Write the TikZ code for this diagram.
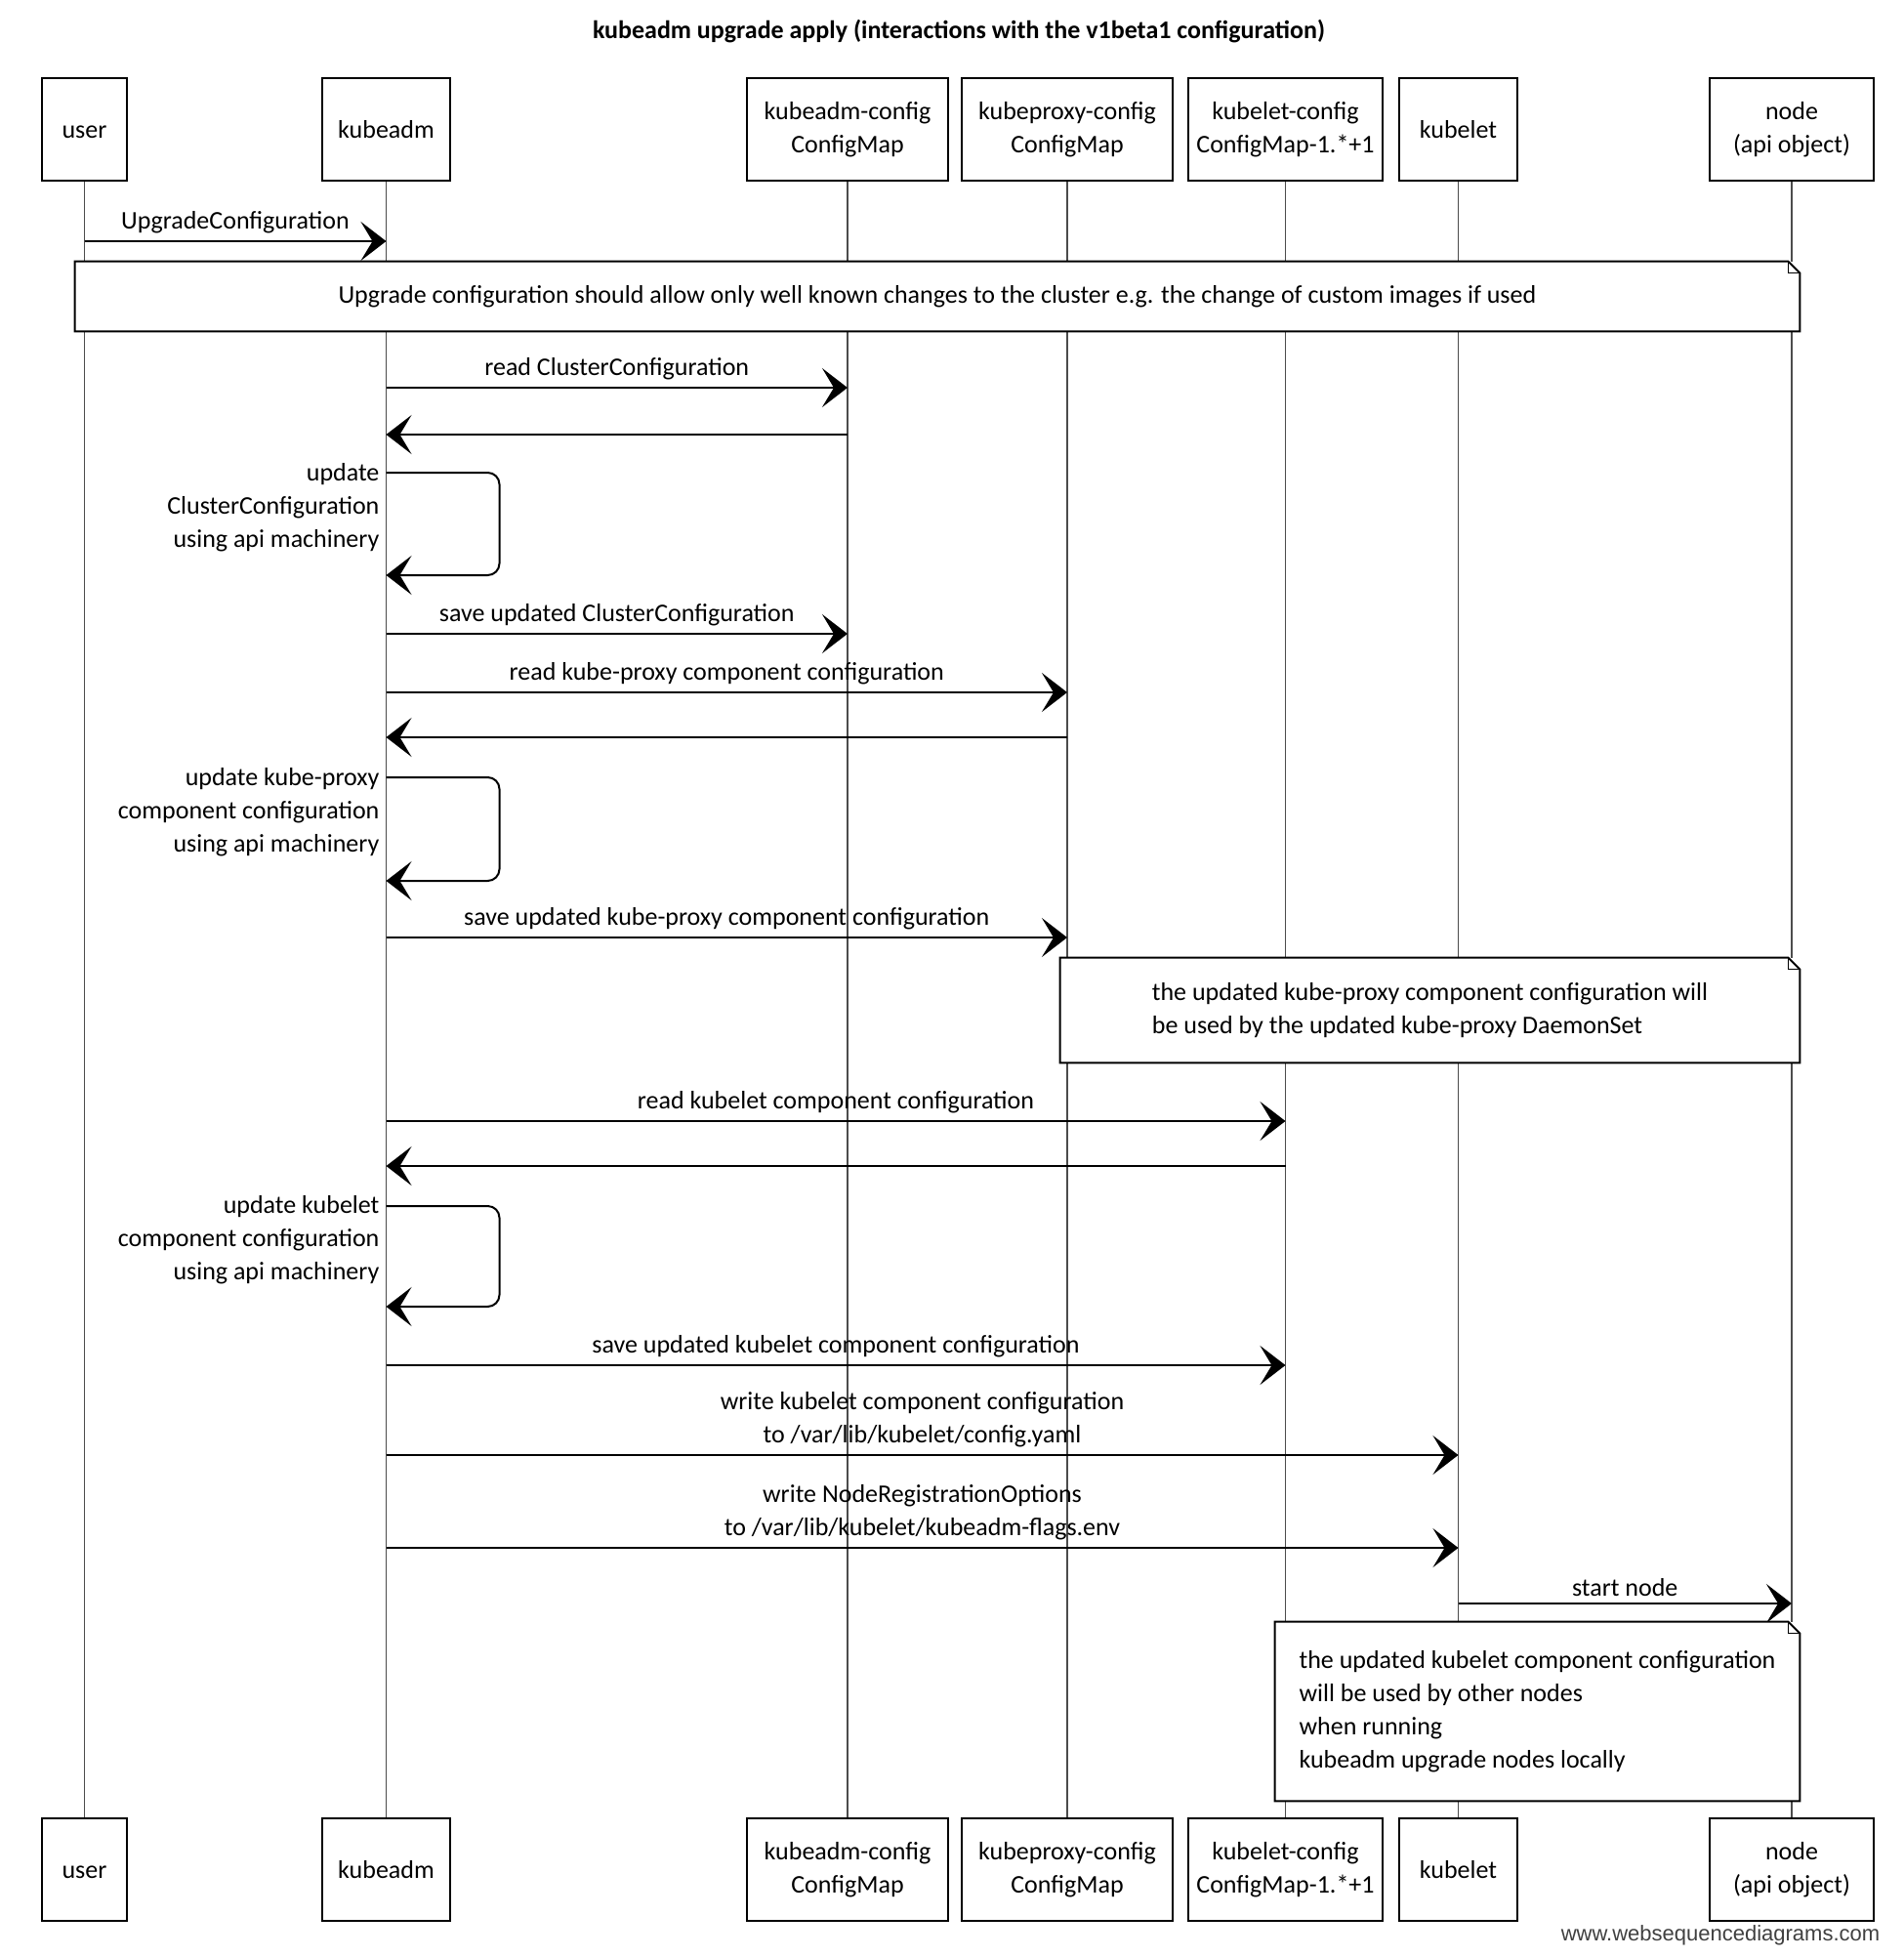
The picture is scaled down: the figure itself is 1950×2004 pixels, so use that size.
\documentclass[tikz,border=0pt]{standalone}
\usepackage{fontspec}
\setmainfont{Carlito}
\newfontfamily\wmfont{Liberation Sans}
\usetikzlibrary{arrows.meta}

\tikzset{
  actor/.style={draw, line width=1pt, fill=white, align=center, minimum height=52.5pt},
  msg/.style={line width=1pt, -{Stealth[length=13pt,width=20pt,inset=6pt]}},
  lifeline/.style={line width=0.6pt, black!70},
  note/.style={fill=white, inner sep=0pt},
}
% outline of a note with a folded corner
\newcommand\notebox[1]{%
  \draw[line width=1pt] (#1.north west) -- ([xshift=-6pt]#1.north east)
    -- ([yshift=-6pt]#1.north east) -- (#1.south east) -- (#1.south west) -- cycle;
  \draw[line width=0.6pt] ([xshift=-6pt]#1.north east) |- ([yshift=-6pt]#1.north east);
}

\begin{document}
\begin{tikzpicture}[x=0.5pt, y=-0.5pt, every node/.style={font=\fontsize{13}{17}\selectfont}]
        \useasboundingbox (0,0) rectangle (1950,2004);
        \node[font=\bfseries\fontsize{13}{17}\selectfont] (title) at (982,32)
          {kubeadm upgrade apply (interactions with the v1beta1 configuration)};

        % participants, top row
        \node[actor, minimum width=43.5pt] (user) at (86.5,132.5) {\vphantom{k}user};
        \node[actor, minimum width=65.5pt] (kubeadm) at (395.5,132.5) {kubeadm};
        \node[actor, minimum width=103pt] (kcfg) at (868,132.5) {kubeadm-config\\ConfigMap};
        \node[actor, minimum width=108pt] (kpcfg) at (1093,132.5) {kubeproxy-config\\ConfigMap};
        \node[actor, minimum width=99.5pt] (klcfg) at (1316.5,132.5) {kubelet-config\\ConfigMap-1.*+1};
        \node[actor, minimum width=60.5pt] (kubelet) at (1493.5,132.5) {kubelet};
        \node[actor, minimum width=84pt] (apinode) at (1835,132.5) {node\\(api object)};

        % participants, bottom row
        \node[actor, minimum width=43.5pt] (userB) at (86.5,1914.5) {\vphantom{k}user};
        \node[actor, minimum width=65.5pt] (kubeadmB) at (395.5,1914.5) {kubeadm};
        \node[actor, minimum width=103pt] (kcfgB) at (868,1914.5) {kubeadm-config\\ConfigMap};
        \node[actor, minimum width=108pt] (kpcfgB) at (1093,1914.5) {kubeproxy-config\\ConfigMap};
        \node[actor, minimum width=99.5pt] (klcfgB) at (1316.5,1914.5) {kubelet-config\\ConfigMap-1.*+1};
        \node[actor, minimum width=60.5pt] (kubeletB) at (1493.5,1914.5) {kubelet};
        \node[actor, minimum width=84pt] (apinodeB) at (1835,1914.5) {node\\(api object)};

        % lifelines
        \draw[lifeline] (user) -- (userB);
        \draw[lifeline] (kubeadm) -- (kubeadmB);
        \draw[lifeline] (kcfg) -- (kcfgB);
        \draw[lifeline] (kpcfg) -- (kpcfgB);
        \draw[lifeline] (klcfg) -- (klcfgB);
        \draw[lifeline] (kubelet) -- (kubeletB);
        \draw[lifeline] (apinode) -- (apinodeB);

        \draw[msg] (user |- 0,247) -- node[above] {UpgradeConfiguration} (kubeadm |- 0,247);
        \node[note, minimum width=883pt, minimum height=35.5pt] (note1) at (960,303.5)
          {Upgrade configuration should allow only well known changes to the cluster e.g. the change of custom images if used};
        \notebox{note1}

        % ClusterConfiguration
        \draw[msg] (kubeadm |- 0,397) -- node[above] {read ClusterConfiguration} (kcfg |- 0,397);
        \draw[msg] (kcfg |- 0,445) -- (kubeadm |- 0,445);
        \draw[msg, rounded corners=6pt] (kubeadm |- 0,484) -- ++(116,0) -- ++(0,105) -- (kubeadm |- 0,589);
        \node[left, align=right] (upd1) at (kubeadm |- 0,520) {update\\ClusterConfiguration\\using api machinery};
        \draw[msg] (kubeadm |- 0,649) -- node[above] {save updated ClusterConfiguration} (kcfg |- 0,649);

        % kube-proxy
        \draw[msg] (kubeadm |- 0,709) -- node[above] {read kube-proxy component configuration} (kpcfg |- 0,709);
        \draw[msg] (kpcfg |- 0,755) -- (kubeadm |- 0,755);
        \draw[msg, rounded corners=6pt] (kubeadm |- 0,796) -- ++(116,0) -- ++(0,106) -- (kubeadm |- 0,902);
        \node[left, align=right] (upd2) at (kubeadm |- 0,832) {update kube-proxy\\component configuration\\using api machinery};
        \draw[msg] (kubeadm |- 0,960) -- node[above] {save updated kube-proxy component configuration} (kpcfg |- 0,960);
        \node[note, minimum width=378.5pt, minimum height=53.5pt, align=left] (note2) at (1464.5,1034.5)
          {the updated kube-proxy component configuration will\\be used by the updated kube-proxy DaemonSet};
        \notebox{note2}

        % kubelet
        \draw[msg] (kubeadm |- 0,1148) -- node[above] {read kubelet component configuration} (klcfg |- 0,1148);
        \draw[msg] (klcfg |- 0,1194) -- (kubeadm |- 0,1194);
        \draw[msg, rounded corners=6pt] (kubeadm |- 0,1235) -- ++(116,0) -- ++(0,103) -- (kubeadm |- 0,1338);
        \node[left, align=right] (upd3) at (kubeadm |- 0,1270) {update kubelet\\component configuration\\using api machinery};
        \draw[msg] (kubeadm |- 0,1398) -- node[above] {save updated kubelet component configuration} (klcfg |- 0,1398);
        \draw[msg] (kubeadm |- 0,1490) -- node[above, align=center]
          {write kubelet component configuration\\to /var/lib/kubelet/config.yaml} (kubelet |- 0,1490);
        \draw[msg] (kubeadm |- 0,1585) -- node[above, align=center]
          {write NodeRegistrationOptions\\to /var/lib/kubelet/kubeadm-flags.env} (kubelet |- 0,1585);
        \draw[msg] (kubelet |- 0,1642) -- node[above] {start node} (apinode |- 0,1642);
        \node[note, minimum width=268.5pt, minimum height=91.5pt, align=left] (note3) at (1574.5,1752.5)
          {the updated kubelet component configuration\\will be used by other nodes\\when running\\kubeadm upgrade nodes locally};
        \notebox{note3}

        \node[font=\wmfont\fontsize{11}{13}\selectfont, text=black!75] (wsd) at (1762,1982) {www.websequencediagrams.com};
\end{tikzpicture}
\end{document}
